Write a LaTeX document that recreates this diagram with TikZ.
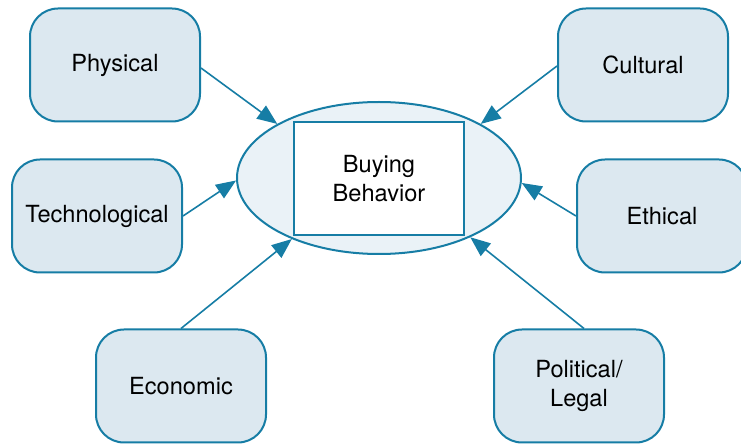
\documentclass[tikz,border=0pt]{standalone}
\usepackage{fontspec}
\setmainfont{TeX Gyre Heros}
\usetikzlibrary{shapes.geometric}
\usetikzlibrary{arrows.meta}
\definecolor{edge}{HTML}{167DA5}
\definecolor{boxfill}{HTML}{DCE8F0}
\definecolor{ovalfill}{HTML}{EAF2F7}

\begin{document}
\begin{tikzpicture}[x=0.5pt,y=-0.5pt,
    factor/.style={draw=edge, fill=boxfill, line width=1pt, rounded corners=14pt,
      minimum width=85pt, minimum height=56.5pt, inner sep=0pt, align=center,
      font=\fontsize{11.8}{14.5}\selectfont},
    pull/.style={draw=edge, line width=0.8pt, -{Triangle[length=10pt,width=8pt]}}]
      \useasboundingbox (0,0) rectangle (741,444);
      % centre
      \node [ellipse, draw=edge, fill=ovalfill, line width=1pt, inner sep=0pt,
        minimum width=142pt, minimum height=76pt] (oval) at (379,178) {};
      \node [draw=edge, fill=white, line width=1pt, minimum width=85pt, minimum height=56.5pt,
        align=center, font=\fontsize{11.8}{14.5}\selectfont] (buying) at (379,178.5) {Buying\\Behavior};
      % factors
      \node [factor] (physical) at (115,65) {Physical};
      \node [factor] (cultural) at (643,65) {Cultural};
      \node [factor] (techno) at (97,216) {Technological};
      \node [factor] (ethical) at (662,216) {Ethical};
      \node [factor] (economic) at (181,386) {Economic};
      \node [factor] (political) at (579,386) {Political/\\Legal};
      % arrows
      \draw [pull] ([yshift=-1.5pt]physical.east) -- (oval.152.5);
      \draw [pull] ([yshift=-0.5pt]cultural.west) -- (oval.28.8);
      \draw [pull] (techno.east) -- (oval.181.2);
      \draw [pull] (ethical.west) -- (oval.358.4);
      \draw [pull] (economic.north) -- (oval.215);
      \draw [pull] ([xshift=2.5pt]political.north) -- (oval.327.5);
    \end{tikzpicture}
\end{document}
